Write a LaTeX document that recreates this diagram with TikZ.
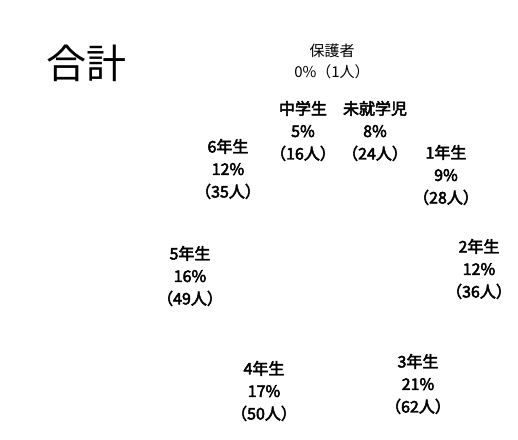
\documentclass[tikz,border=0pt]{standalone}
\usepackage{fontspec}
\newfontfamily\cjk{Noto Sans CJK JP}
\newfontfamily\cjkb[FakeBold=3]{Noto Sans CJK JP}
\tikzset{
    grade/.style = {align = center, font = \cjkb\fontsize{16}{22.5}\selectfont, inner sep = 0pt},
    small/.style = {align = center, font = \cjk\fontsize{15}{21}\selectfont, inner sep = 0pt}
}
\begin{document}
\begin{tikzpicture}[x=1pt, y=-1pt]
    \useasboundingbox (0,0) rectangle (518,439);

    \node[font = \cjk\fontsize{40}{42}\selectfont, inner sep = 0pt] (title) at (86,63) {合計};

    \node[small] (hogosha) at (332,61) {保護者\\0\%（1人）};

    \node[grade] (chugaku) at (303,131) {中学生\\5\%\\（16人）};
    \node[grade] (mishu) at (375,131) {未就学児\\8\%\\（24人）};

	\node[grade] (g6) at (228,169) {6年生\\12\%\\（35人）};
	\node[grade] (g1) at (446,175) {1年生\\9\%\\（28人）};
	\node[grade] (g5) at (190,276) {5年生\\16\%\\（49人）};
	\node[grade] (g2) at (479,269) {2年生\\12\%\\（36人）};
	\node[grade] (g4) at (264,391) {4年生\\17\%\\（50人）};
	\node[grade] (g3) at (418,384) {3年生\\21\%\\（62人）};

\end{tikzpicture}
\end{document}
